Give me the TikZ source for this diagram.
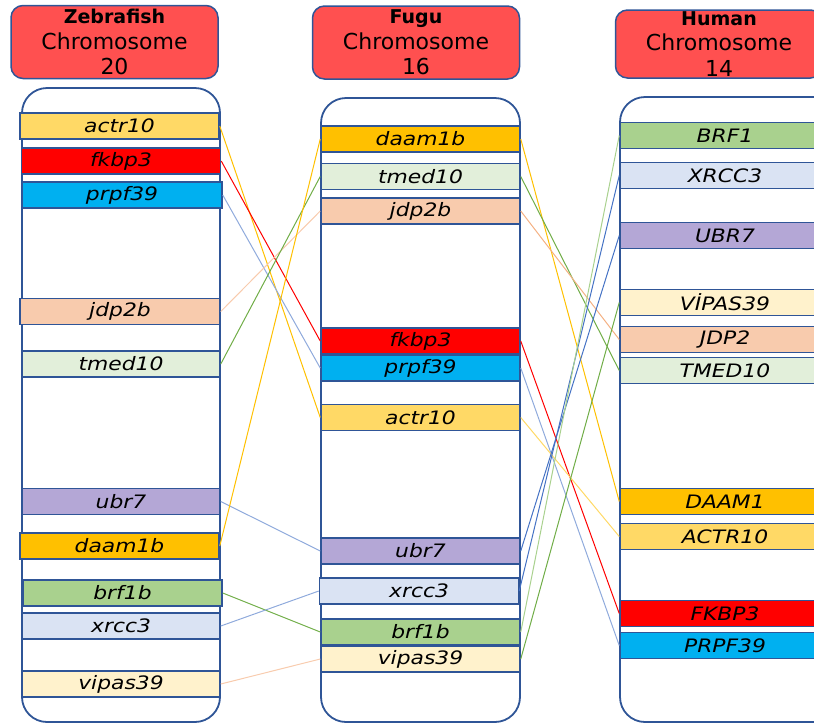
\documentclass[tikz,border=0pt]{standalone}
\usepackage{fontspec}
\setmainfont{DejaVu Sans}
\newfontfamily\genefont[FakeStretch=1.18]{DejaVu Sans}
\usepackage{tikz}
\usetikzlibrary{calc,arrows.meta}

\definecolor{frame}{HTML}{2F5597}
\definecolor{headred}{HTML}{FF5050}
\definecolor{cactr}{HTML}{FFD966}
\definecolor{cfkbp}{HTML}{FF0000}
\definecolor{cprpf}{HTML}{00B0F0}
\definecolor{cjdp}{HTML}{F8CBAD}
\definecolor{ctmed}{HTML}{E2EFDA}
\definecolor{cubr}{HTML}{B4A7D6}
\definecolor{cdaam}{HTML}{FFC000}
\definecolor{cbrf}{HTML}{A9D18E}
\definecolor{cxrcc}{HTML}{DAE3F3}
\definecolor{cvipas}{HTML}{FFF2CC}
\definecolor{lblue}{HTML}{8FAADC}
\definecolor{dblue}{HTML}{4472C4}
\definecolor{lgreen}{HTML}{70AD47}
\definecolor{lorange}{HTML}{F4B183}

\begin{document}
\begin{tikzpicture}[x=1pt,y=-1pt,
	head/.style={draw=frame,line width=1.5pt,fill=headred,rounded corners=12pt,
		minimum width=207pt,minimum height=73pt,align=center,inner sep=0pt,
		font=\fontsize{22}{25.5}\selectfont},
	chrom/.style={draw=frame,line width=1.8pt,fill=white,rounded corners=25pt},
	gene/.style={draw=frame,line width=1.5pt,minimum width=199pt,minimum height=26pt,
		inner sep=0pt,font=\genefont\itshape\fontsize{18.5}{20}\selectfont},
	link/.style={line width=1pt}]
	\clip (0,0) rectangle (814,724);
	
	% headers
	\node[head] (zhead) at (114.5,42) {{\fontsize{19}{25.5}\selectfont\bfseries Zebrafish}\\Chromosome\\20};
	\node[head] (fhead) at (416,42.5) {{\fontsize{19}{25.5}\selectfont\bfseries Fugu}\\Chromosome\\16};
	\node[head,minimum height=68pt] (hhead) at (719,44) {{\fontsize{19}{25.5}\selectfont\bfseries Human}\\Chromosome\\14};
	
	% chromosomes
	\draw[chrom] (22,88) rectangle (220,722);
	\draw[chrom] (321,98) rectangle (520,722);
	\draw[chrom] (620,97) rectangle (840,722);
	
	% zebrafish genes
	\node[gene,fill=cactr] (zactr10) at (119.5,126) {actr10};
	\node[gene,fill=cfkbp] (zfkbp3) at (121,161) {fkbp3};
	\node[gene,fill=cprpf,minimum width=200pt] (zprpf39) at (122,195) {prpf39};
	\node[gene,fill=cjdp,minimum width=200pt] (zjdp2b) at (120,311.5) {jdp2b};
	\node[gene,fill=ctmed,minimum width=198pt] (ztmed10) at (121,364) {tmed10};
	\node[gene,fill=cubr,minimum width=198pt] (zubr7) at (121,501.5) {ubr7};
	\node[gene,fill=cdaam] (zdaam1b) at (119.5,546) {daam1b};
	\node[gene,fill=cbrf] (zbrf1b) at (122.5,593) {brf1b};
	\node[gene,fill=cxrcc,minimum width=198pt] (zxrcc3) at (121,626) {xrcc3};
	\node[gene,fill=cvipas,minimum width=198pt] (zvipas39) at (121,684) {vipas39};
	
	% fugu genes
	\node[gene,fill=cdaam] (fdaam1b) at (420.5,139) {daam1b};
	\node[gene,fill=ctmed] (ftmed10) at (420.5,176.5) {tmed10};
	\node[gene,fill=cjdp] (fjdp2b) at (420.5,211) {jdp2b};
	\node[gene,fill=cfkbp] (ffkbp3) at (420.5,341) {fkbp3};
	\node[gene,fill=cprpf] (fprpf39) at (420.5,368) {prpf39};
	\node[gene,fill=cactr] (factr10) at (420.5,417.5) {actr10};
	\node[gene,fill=cubr] (fubr7) at (420.5,551) {ubr7};
	\node[gene,fill=cxrcc] (fxrcc3) at (419,591) {xrcc3};
	\node[gene,fill=cbrf] (fbrf1b) at (420.5,632) {brf1b};
	\node[gene,fill=cvipas] (fvipas39) at (420.5,659) {vipas39};
	
	% human genes
	\node[gene,fill=cbrf,minimum width=210pt] (hbrf1) at (725,135.5) {BRF1};
	\node[gene,fill=cxrcc,minimum width=210pt] (hxrcc3) at (725,175.5) {XRCC3};
	\node[gene,fill=cubr,minimum width=210pt] (hubr7) at (725,235.5) {UBR7};
	\node[gene,fill=cvipas,minimum width=210pt] (hvipas39) at (725,302.5) {VİPAS39};
	\node[gene,fill=cjdp,minimum width=210pt] (hjdp2) at (725,339.5) {JDP2};
	\node[gene,fill=ctmed,minimum width=210pt] (htmed10) at (725,370.5) {TMED10};
	\node[gene,fill=cdaam,minimum width=210pt] (hdaam1) at (725,501.5) {DAAM1};
	\node[gene,fill=cactr,minimum width=210pt] (hactr10) at (725,536.5) {ACTR10};
	\node[gene,fill=cfkbp,minimum width=210pt] (hfkbp3) at (725,613.5) {FKBP3};
	\node[gene,fill=cprpf,minimum width=210pt] (hprpf39) at (725,645.5) {PRPF39};
	
	% zebrafish to fugu
	\draw[link,cdaam] (zactr10.east) -- (factr10.west);
	\draw[link,cfkbp] (zfkbp3.east) -- (ffkbp3.west);
	\draw[link,lblue] (zprpf39.east) -- (fprpf39.west);
	\draw[link,cjdp] (zjdp2b.east) -- (fjdp2b.west);
	\draw[link,lgreen] (ztmed10.east) -- (ftmed10.west);
	\draw[link,lblue] (zubr7.east) -- (fubr7.west);
	\draw[link,cdaam] (zdaam1b.east) -- (fdaam1b.west);
	\draw[link,lgreen] (zbrf1b.east) -- (fbrf1b.west);
	\draw[link,lblue] (zxrcc3.east) -- (fxrcc3.west);
	\draw[link,cjdp] (zvipas39.east) -- (fvipas39.west);
	
	% fugu to human
	\draw[link,cdaam] (fdaam1b.east) -- (hdaam1.west);
	\draw[link,lgreen] (ftmed10.east) -- (htmed10.west);
	\draw[link,lorange] (fjdp2b.east) -- (hjdp2.west);
	\draw[link,cfkbp] (ffkbp3.east) -- (hfkbp3.west);
	\draw[link,lblue] (fprpf39.east) -- (hprpf39.west);
	\draw[link,cactr] (factr10.east) -- (hactr10.west);
	\draw[link,dblue] (fubr7.east) -- (hubr7.west);
	\draw[link,dblue] (fxrcc3.east) -- (hxrcc3.west);
	\draw[link,cbrf] (fbrf1b.east) -- (hbrf1.west);
	\draw[link,lgreen] (fvipas39.east) -- (hvipas39.west);
	
\end{tikzpicture}
\end{document}
